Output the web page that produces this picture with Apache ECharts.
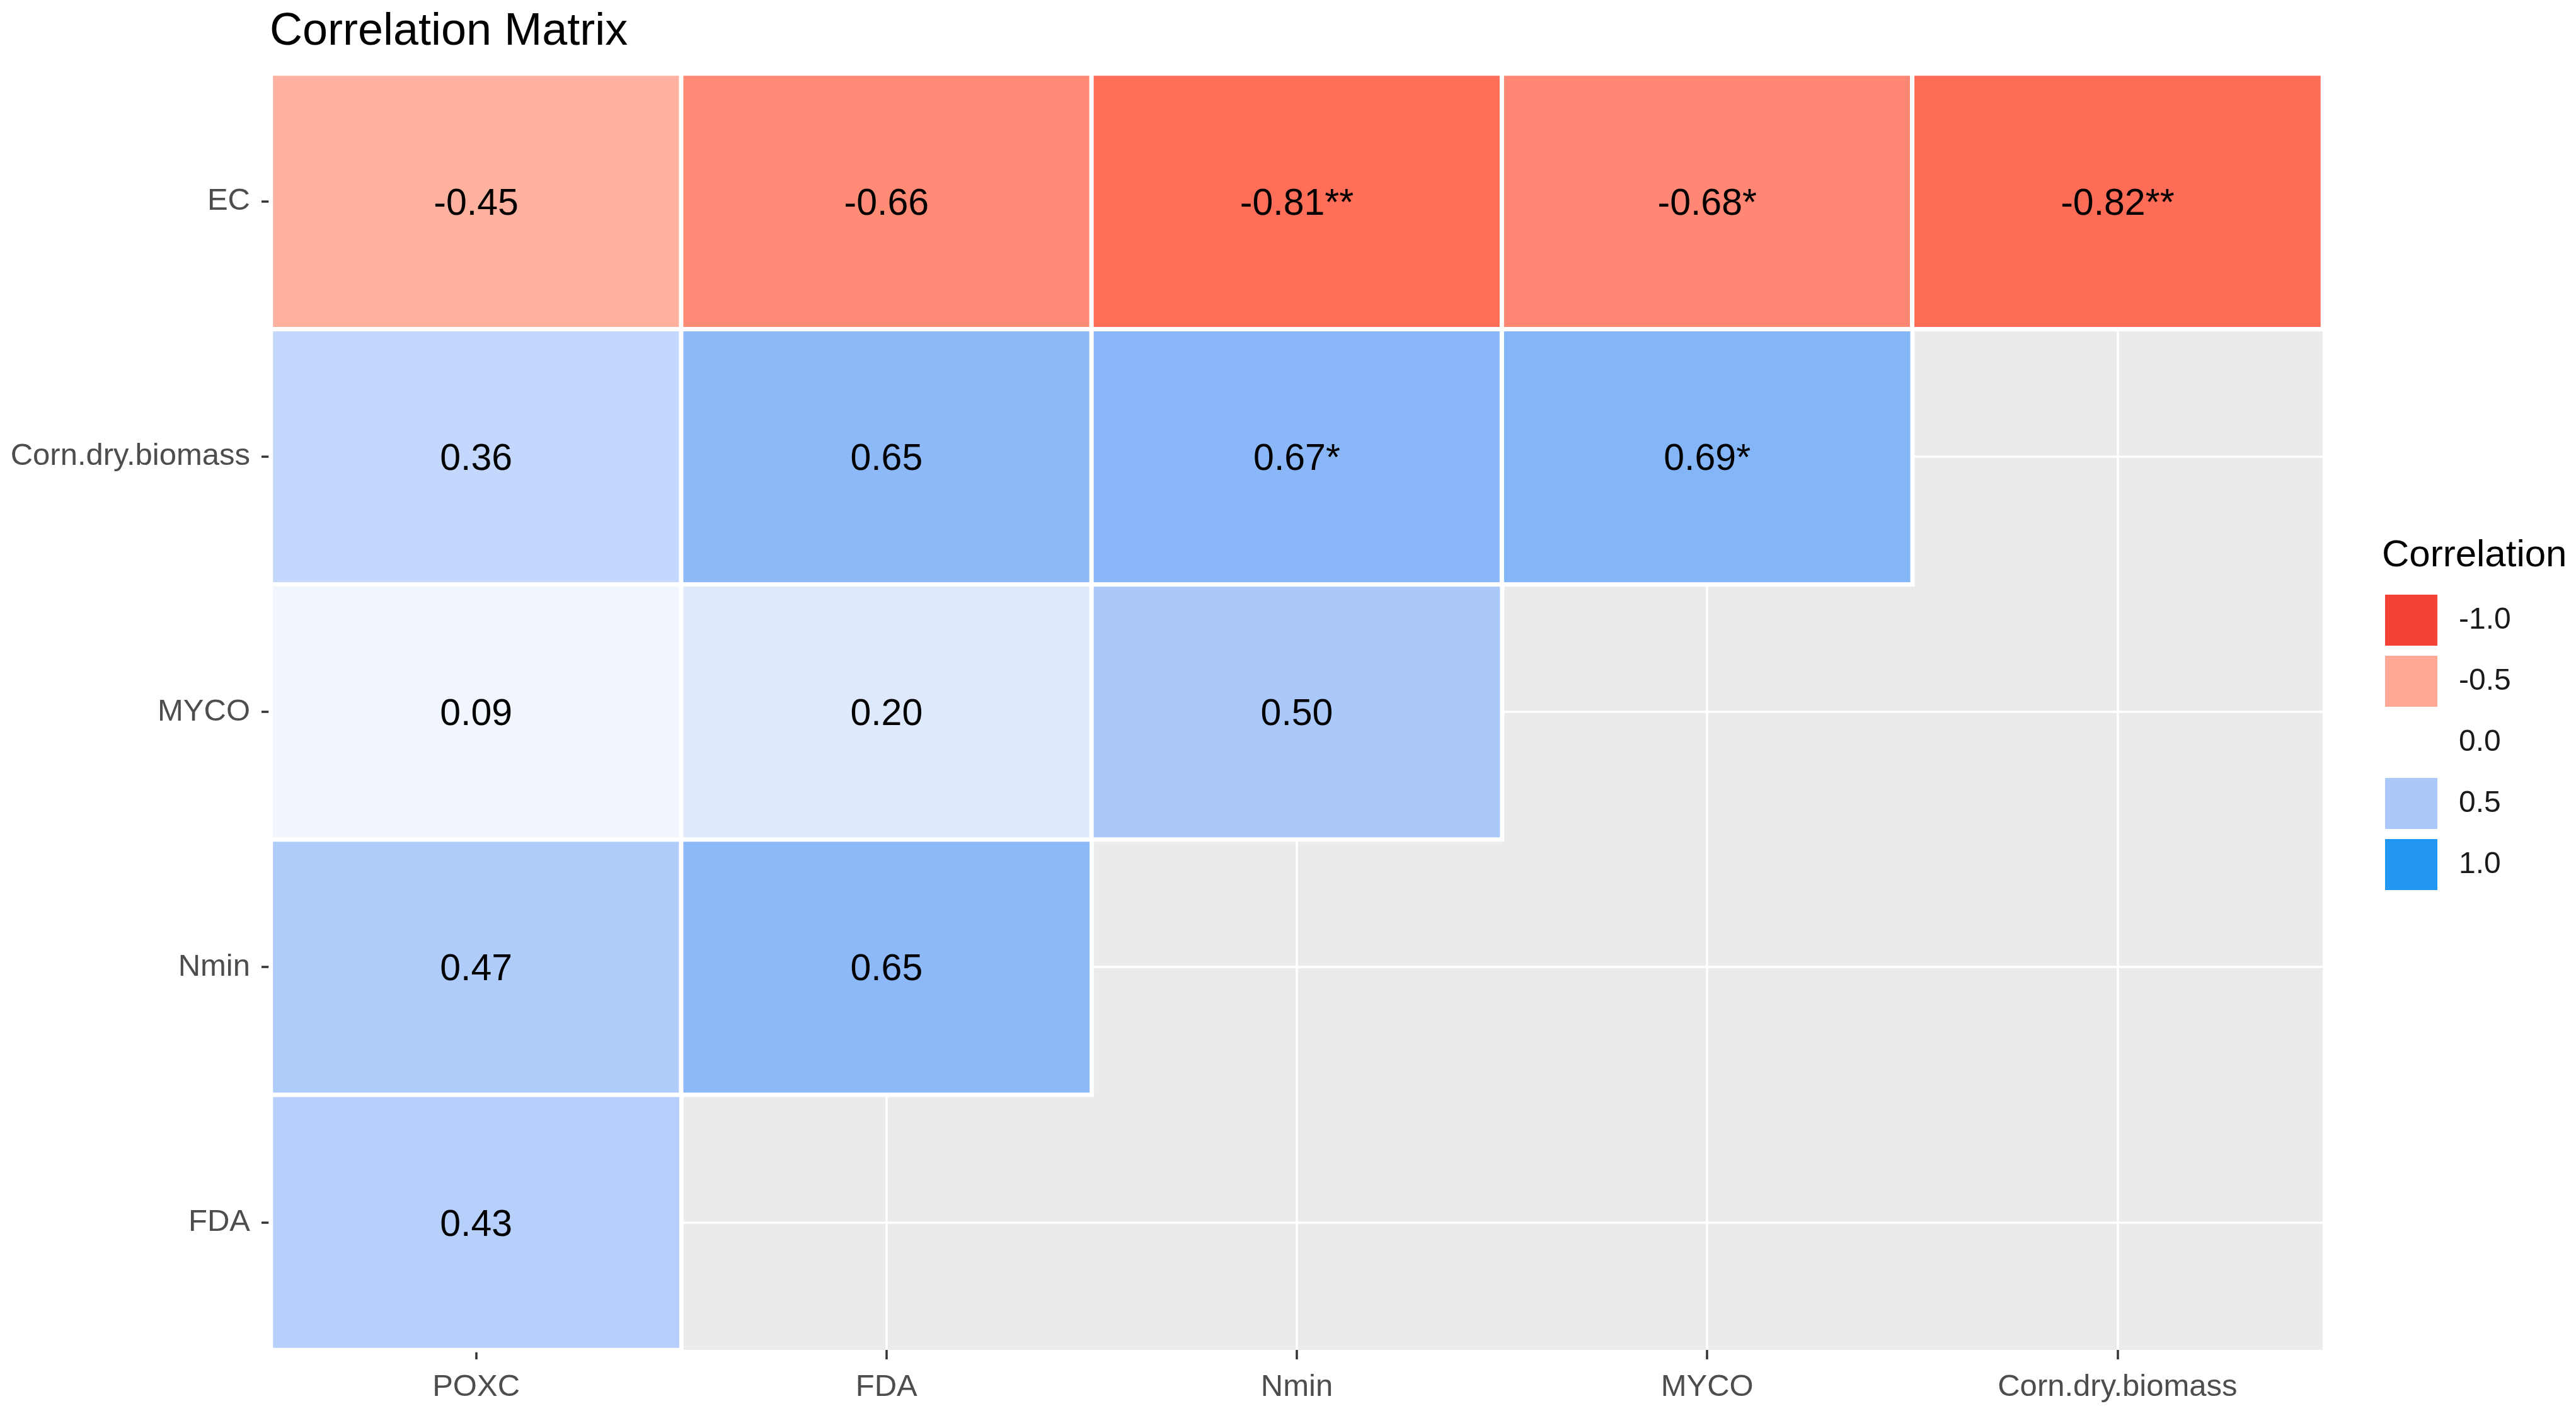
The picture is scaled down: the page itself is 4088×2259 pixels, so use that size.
<!DOCTYPE html>
<html><head><meta charset="utf-8">
<script src="https://cdn.jsdelivr.net/npm/echarts@6/dist/echarts.min.js"></script>
<style>html,body{margin:0;padding:0;background:#fff}#c{width:4088px;height:2259px}</style>
</head><body><div id="c"></div>
<script>
// ---- data ----
const xCategories = ['POXC', 'FDA', 'Nmin', 'MYCO', 'Corn.dry.biomass'];
const yCategories = ['FDA', 'Nmin', 'MYCO', 'Corn.dry.biomass', 'EC']; // bottom -> top
const ecValues = [-0.45, -0.66, -0.81, -0.68, -0.82];
const ecStars = ['', '', '**', '*', '**'];
const cornValues = [0.36, 0.65, 0.67, 0.69];
const cornStars = ['', '', '*', '*'];
const mycoValues = [0.09, 0.20, 0.50];
const mycoStars = ['', '', ''];
const nminValues = [0.47, 0.65];
const nminStars = ['', ''];
const fdaValues = [0.43];
const fdaStars = [''];
const legendValues = [-1, -0.5, 0, 0.5, 1];
const legendLabels = ['-1.0', '-0.5', '0.0', '0.5', '1.0'];

const rows = {
  'EC': [ecValues, ecStars],
  'Corn.dry.biomass': [cornValues, cornStars],
  'MYCO': [mycoValues, mycoStars],
  'Nmin': [nminValues, nminStars],
  'FDA': [fdaValues, fdaStars]
};

// ---- colour scale (Lab interpolation like scale_fill_gradient2) ----
const LOW = '#F44336', MID = '#FFFFFF', HIGH = '#2196F3';
function s2l(c){c/=255;return c<=0.04045?c/12.92:Math.pow((c+0.055)/1.055,2.4);}
function l2s(c){c=Math.min(1,Math.max(0,c));const v=c<=0.0031308?12.92*c:1.055*Math.pow(c,1/2.4)-0.055;return Math.round(v*255);}
function hexToLab(h){
  const r=s2l(parseInt(h.slice(1,3),16)),g=s2l(parseInt(h.slice(3,5),16)),b=s2l(parseInt(h.slice(5,7),16));
  const X=(0.4124564*r+0.3575761*g+0.1804375*b)/0.95047,Y=0.2126729*r+0.7151522*g+0.0721750*b,Z=(0.0193339*r+0.1191920*g+0.9503041*b)/1.08883;
  const f=t=>t>0.008856?Math.cbrt(t):7.787*t+16/116;
  const fx=f(X),fy=f(Y),fz=f(Z);return [116*fy-16,500*(fx-fy),200*(fy-fz)];
}
function labToHex(L,a,b){
  const fy=(L+16)/116,fx=fy+a/500,fz=fy-b/200;const fi=t=>t>0.206893?t*t*t:(t-16/116)/7.787;
  const X=fi(fx)*0.95047,Y=fi(fy),Z=fi(fz)*1.08883;
  const r=3.2404542*X-1.5371385*Y-0.4985314*Z,g=-0.9692660*X+1.8760108*Y+0.0415560*Z,bb=0.0556434*X-0.2040259*Y+1.0572252*Z;
  return '#'+[r,g,bb].map(c=>l2s(c).toString(16).padStart(2,'0')).join('');
}
const labLow=hexToLab(LOW),labMid=hexToLab(MID),labHigh=hexToLab(HIGH);
function colorFor(v){
  const t=Math.abs(v),e=v<0?labLow:labHigh;
  return labToHex(labMid[0]+(e[0]-labMid[0])*t,labMid[1]+(e[1]-labMid[1])*t,labMid[2]+(e[2]-labMid[2])*t);
}
const stops=[];for(let i=0;i<=40;i++){stops.push(colorFor(-1+i*0.05));}

// ---- heatmap data ----
const heatData=[];
yCategories.forEach((rowName,yi)=>{
  const [vals,stars]=rows[rowName];
  vals.forEach((v,xi)=>heatData.push({value:[xi,yi,v],star:stars[xi]}));
});

const FONT='"Liberation Sans", Arial, sans-serif';
const chart=echarts.init(document.getElementById('c'),null,{renderer:'canvas'});
chart.setOption({
  animation:false,
  backgroundColor:'#FFFFFF',
  title:[
    {text:'Correlation Matrix',left:428,top:15,padding:0,textStyle:{fontSize:72,fontWeight:'normal',color:'#000',fontFamily:FONT}},
    {text:'Correlation',left:3780,top:852,padding:0,textStyle:{fontSize:60,fontWeight:'normal',color:'#000',fontFamily:FONT}}
  ],
  grid:{left:430,right:402,top:117,bottom:116,show:true,backgroundColor:'#EBEBEB',borderWidth:0},
  xAxis:[
    {type:'category',data:xCategories,position:'bottom',
     axisLine:{show:false,onZero:false},
     axisTick:{show:true,alignWithLabel:true,length:15,lineStyle:{color:'#333333',width:3.5}},
     axisLabel:{margin:35,color:'#4D4D4D',fontSize:49,fontFamily:FONT},
     splitLine:{show:false}},
    {type:'value',min:-0.5,max:4.5,position:'top',splitNumber:5,
     axisLine:{show:false,onZero:false},axisTick:{show:false},axisLabel:{show:false},
     splitLine:{show:true,showMinLine:false,showMaxLine:false,lineStyle:{color:'#FFFFFF',width:3.5}}}
  ],
  yAxis:[
    {type:'category',data:yCategories,position:'left',
     axisLine:{show:false,onZero:false},
     axisTick:{show:true,alignWithLabel:true,length:15,lineStyle:{color:'#333333',width:3.5}},
     axisLabel:{margin:33,color:'#4D4D4D',fontSize:49,fontFamily:FONT,padding:[10,0,0,0]},
     splitLine:{show:false}},
    {type:'value',min:-0.5,max:4.5,position:'right',splitNumber:5,
     axisLine:{show:false,onZero:false},axisTick:{show:false},axisLabel:{show:false},
     splitLine:{show:true,showMinLine:false,showMaxLine:false,lineStyle:{color:'#FFFFFF',width:3.5}}}
  ],
  visualMap:[
    {type:'continuous',show:false,seriesIndex:0,dimension:2,min:-1,max:1,inRange:{color:stops}},
    {type:'piecewise',seriesIndex:1,orient:'vertical',inverse:true,left:3785,top:944,padding:0,align:'left',
     itemWidth:83,itemHeight:81,itemGap:16,textGap:34,itemSymbol:'rect',selectedMode:false,
     pieces:legendValues.map((v,i)=>({value:v,label:legendLabels[i],color:colorFor(v)})),
     textStyle:{color:'#1A1A1A',fontSize:48,fontFamily:FONT}}
  ],
  series:[
    {type:'heatmap',xAxisIndex:0,yAxisIndex:0,data:heatData,
     itemStyle:{borderColor:'#FFFFFF',borderWidth:7},
     label:{show:true,color:'#000',fontSize:59,fontFamily:FONT,offset:[0,5],
       formatter:p=>p.data.value[2].toFixed(2)+p.data.star},
     emphasis:{disabled:true}},
    {type:'scatter',xAxisIndex:1,yAxisIndex:1,data:[],silent:true}
  ]
});
</script></body></html>
